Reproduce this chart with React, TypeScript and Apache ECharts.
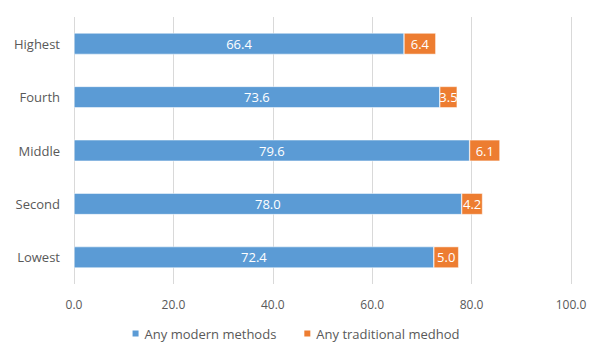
import React, { useEffect, useRef } from "react";
import * as echarts from "echarts";

const categories = ["Lowest", "Second", "Middle", "Fourth", "Highest"];
const modernValues = [72.4, 78.0, 79.6, 73.6, 66.4];
const traditionalValues = [5.0, 4.2, 6.1, 3.5, 6.4];
const seriesNames = ["Any modern methods", "Any traditional medhod"];
const xTicks = { min: 0, max: 100, interval: 20 };

export default function App() {
  const ref = useRef<HTMLDivElement>(null);
  useEffect(() => {
    document.body.style.margin = "0";
    const chart = echarts.init(ref.current!, null, { renderer: "svg" });
    const font = "'Open Sans', 'Noto Sans', sans-serif";
    const labelCfg = {
      show: true,
      position: "inside",
      color: "#ffffff",
      fontSize: 13,
      fontFamily: font,
      formatter: (p: any) => Number(p.value).toFixed(1),
    };
    chart.setOption({
      animation: false,
      textStyle: { fontFamily: font },
      grid: { left: 74, right: 19, top: 17, bottom: 58 },
      legend: {
        data: seriesNames,
        top: 322,
        left: "center",
        itemWidth: 8,
        itemHeight: 8,
        itemGap: 26,
        icon: "rect",
        textStyle: { color: "#595959", fontSize: 13, fontFamily: font },
      },
      xAxis: {
        type: "value",
        min: xTicks.min,
        max: xTicks.max,
        interval: xTicks.interval,
        axisLine: { show: false },
        axisTick: { show: false },
        axisLabel: {
          color: "#595959",
          fontSize: 12,
          margin: 14,
          fontFamily: font,
          formatter: (v: number) => v.toFixed(1),
        },
        splitLine: { show: true, lineStyle: { color: "#d9d9d9", width: 1 } },
      },
      yAxis: {
        type: "category",
        data: categories,
        axisLine: { show: false },
        axisTick: { show: false },
        axisLabel: { color: "#595959", fontSize: 13, margin: 14, fontFamily: font },
      },
      series: [
        {
          name: seriesNames[0],
          type: "bar",
          stack: "total",
          data: modernValues,
          barCategoryGap: "60%",
          itemStyle: { color: "#5B9BD5", borderColor: "#ffffff", borderWidth: 0.5 },
          label: labelCfg,
        },
        {
          name: seriesNames[1],
          type: "bar",
          stack: "total",
          data: traditionalValues,
          barCategoryGap: "60%",
          itemStyle: { color: "#ED7D31", borderColor: "#ffffff", borderWidth: 0.5 },
          label: labelCfg,
        },
      ],
    });
    return () => chart.dispose();
  }, []);
  return <div ref={ref} style={{ width: 590, height: 342 }} />;
}
